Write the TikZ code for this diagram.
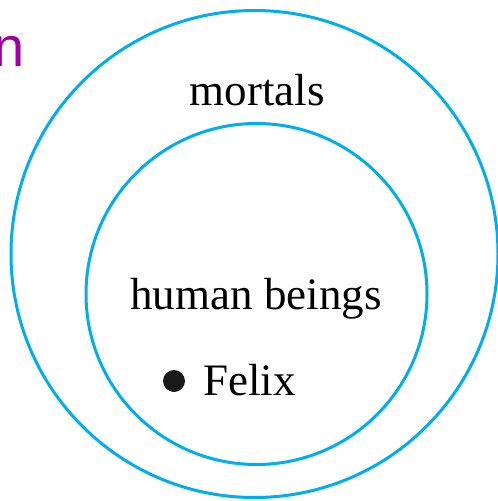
\documentclass[tikz,border=0pt]{standalone}
\usepackage{fontspec}
\setmainfont{Liberation Serif}
\newfontfamily\headfont{Liberation Sans}
\definecolor{setblue}{RGB}{0,174,239}
\definecolor{headpurple}{RGB}{160,0,160}
\tikzset{
    setline/.style={draw=setblue, line width=3pt},
    setlabel/.style={font=\fontsize{45}{50}\selectfont, anchor=base, inner sep=0pt},
}
\begin{document}
\begin{tikzpicture}[x=1pt, y=-1pt]
    \useasboundingbox (0,0) rectangle (498,501);
    \draw[setline] (254.5,254) circle (243.5);
    \draw[setline] (256.5,294) circle (170.5);
    \node[setlabel] (mortals) at (257,105) {mortals};
    \node[setlabel] (human) at (256,309) {human beings};
    \fill[black!90] (174,381) circle (11);
    \node[setlabel, anchor=base west] (felix) at (203,395) {Felix};
    \node[headpurple, font=\headfont\fontsize{56}{60}\selectfont, anchor=base west, inner sep=0pt] (head) at (-7,66) {n};
\end{tikzpicture}
\end{document}
